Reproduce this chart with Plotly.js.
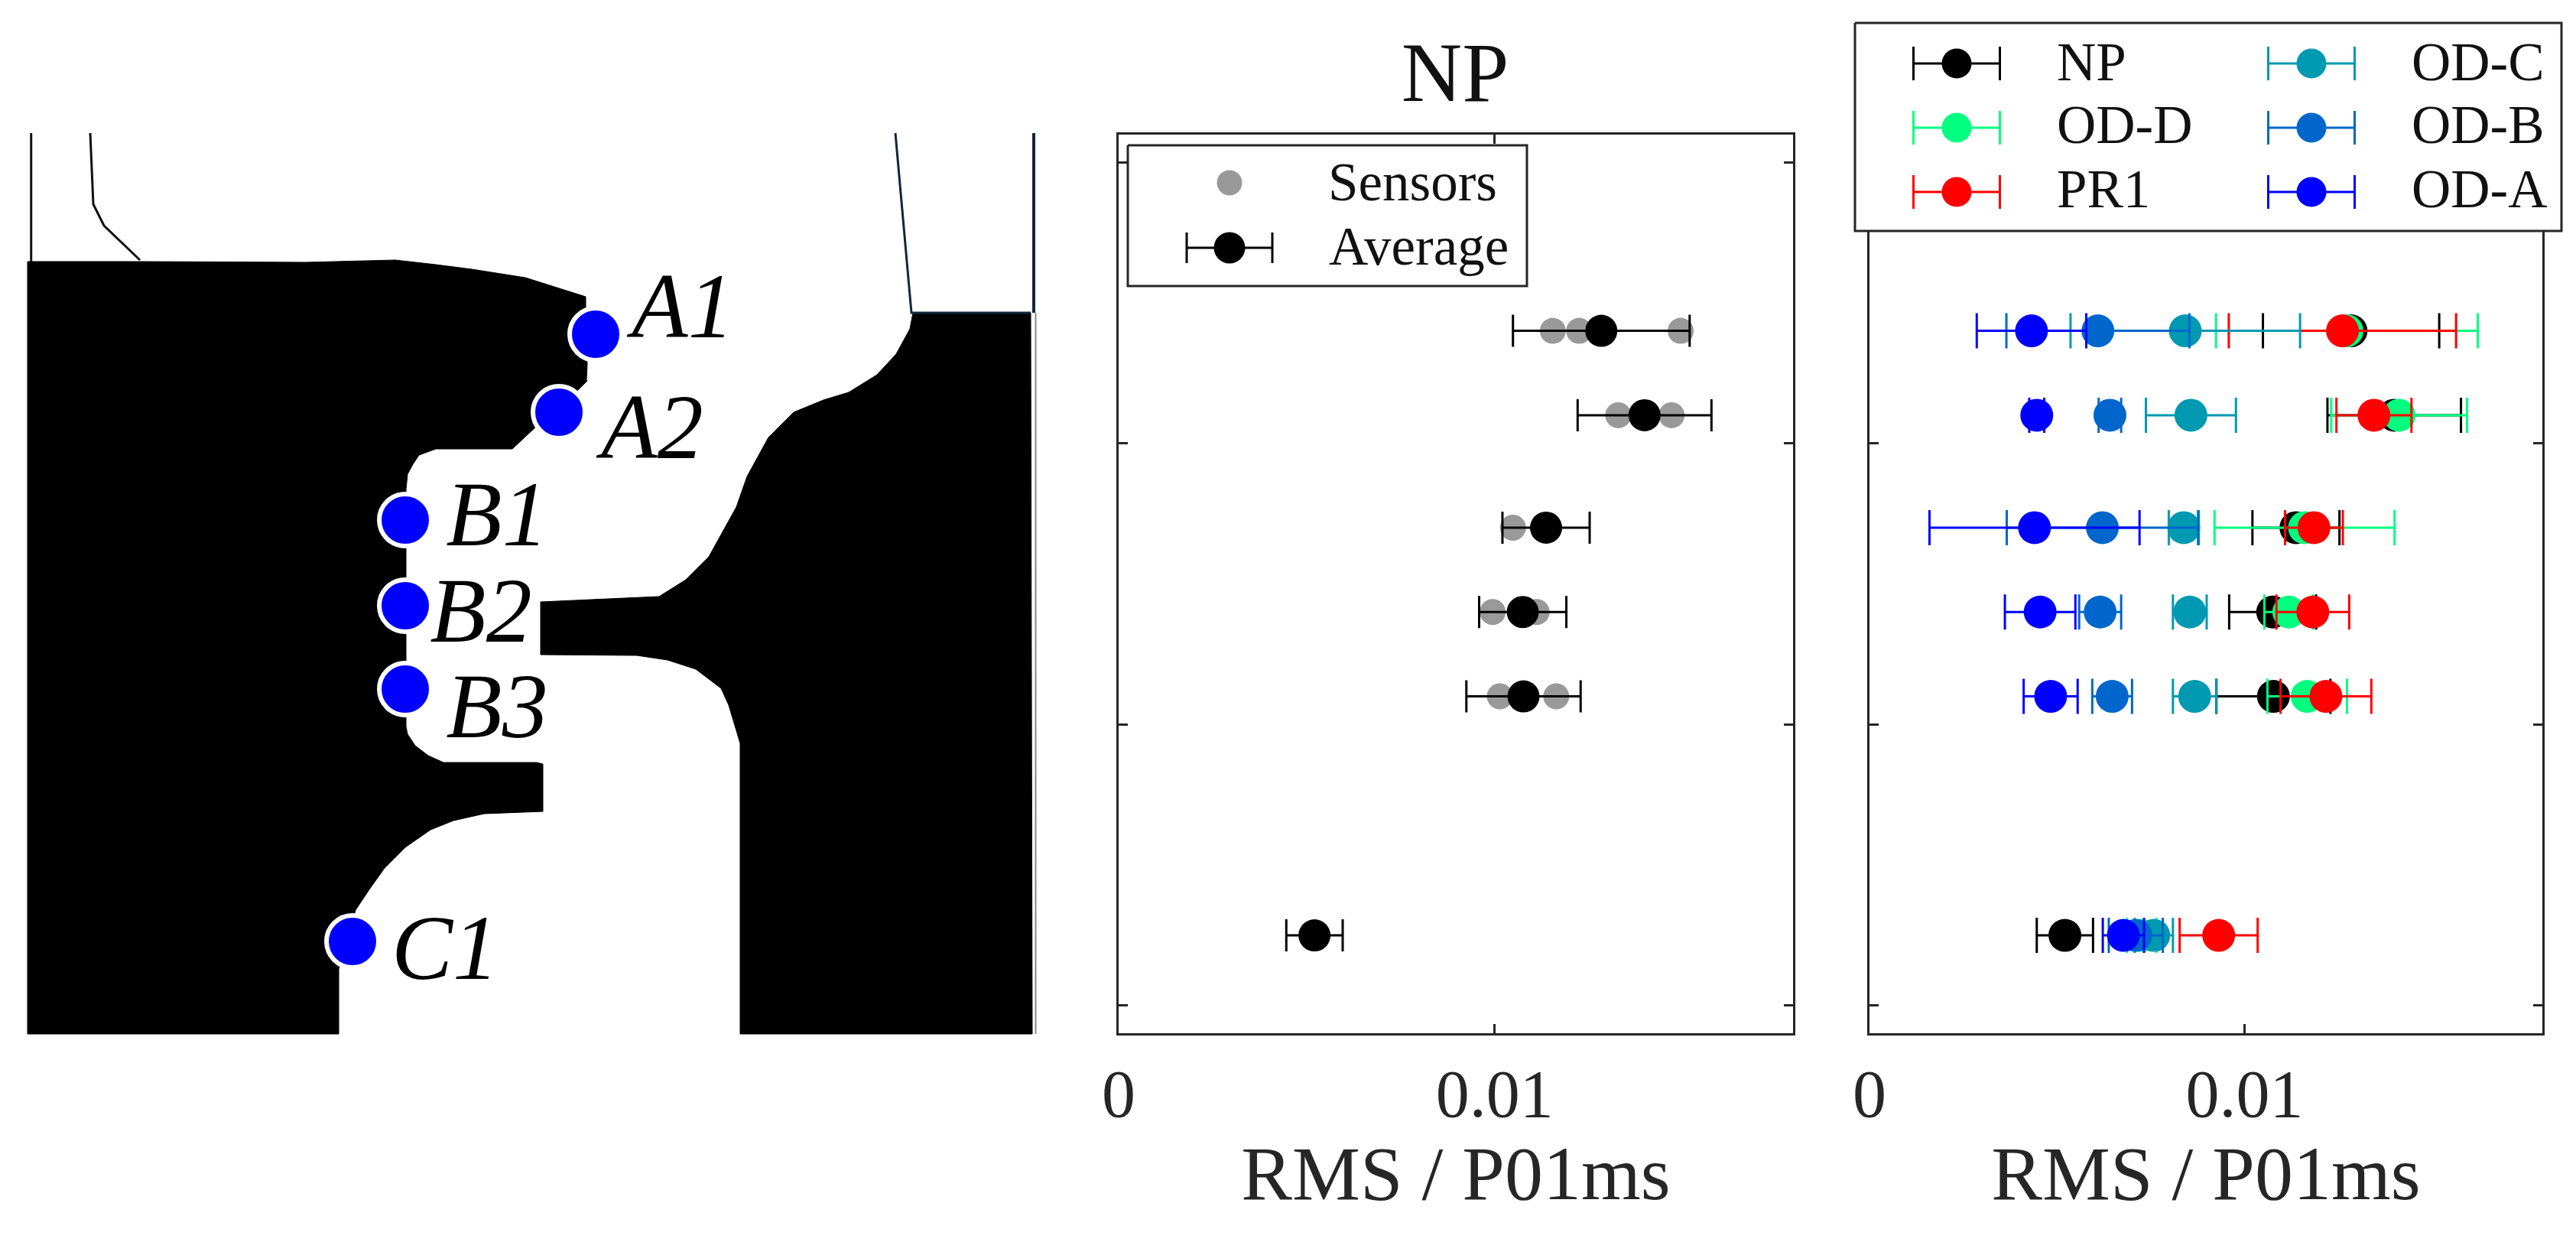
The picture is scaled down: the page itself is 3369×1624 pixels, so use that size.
<!DOCTYPE html>
<html><head><meta charset="utf-8">
<script src="https://cdn.plot.ly/plotly-3.0.1.min.js"></script>
<style>html,body{margin:0;padding:0;background:#fff}#c{width:3369px;height:1624px}</style>
</head><body><div id="c"></div>
<script>
// Data rows on the shared vertical axis (sensor position)
const rows = [2.4, 2.1, 1.7, 1.4, 1.1, 0.25];
const sensorNames = ['A1','A2','B1','B2','B3','C1'];

const seriesNames = ['NP','OD-D','PR1','OD-C','OD-B','OD-A'];
const seriesColors = ['#000000','#00FF7F','#FF0000','#0099B2','#0066CC','#0000FF'];

const npMean  = [0.01284,0.01399,0.01137,0.01075,0.01077,0.00521];
const npErr   = [0.00235,0.00178,0.00116,0.00116,0.00152,0.00075];
const odDMean = [0.01273,0.01412,0.01160,0.01118,0.01167,0.00726];
const odDErr  = [0.00349,0.00181,0.00240,0.00065,0.00106,0.00039];
const pr1Mean = [0.01261,0.01345,0.01185,0.01182,0.01217,0.00931];
const pr1Err  = [0.00303,0.00100,0.00077,0.00097,0.00121,0.00104];
const odCMean = [0.00842,0.00857,0.00838,0.00854,0.00867,0.00758];
const odCErr  = [0.00306,0.00120,0.00040,0.00045,0.00058,0.00051];
const odBMean = [0.00609,0.00641,0.00621,0.00615,0.00647,0.00710];
const odBErr  = [0.00244,0.00030,0.00255,0.00056,0.00053,0.00072];
const odAMean = [0.00432,0.00446,0.00440,0.00455,0.00483,0.00677];
const odAErr  = [0.00146,0.00020,0.00280,0.00094,0.00072,0.00055];

// Individual sensors behind the NP average
const sensorX = [0.01155,0.01225,0.01495, 0.01329,0.01400,0.01471, 0.01049,0.01130,0.01145, 0.00995,0.01075,0.01112, 0.01014,0.01080,0.01164, 0.00521];
const sensorY = [2.4,2.4,2.4, 2.1,2.1,2.1, 1.7,1.7,1.7, 1.4,1.4,1.4, 1.1,1.1,1.1, 0.25];

// Schematic outline (drawn on a hidden helper axis)
const solidLeftX = [36,183,400,517,570,617,687,766,766,768,767,768,757,702,670,570,548,540,533,531,531,533,543,560,580,702,710,710,633,593,563,530,503,483,465,443,443,36,36];
const solidLeftY = [342,342,343,340,346,352,363,388,403,477,497,498,509,557,587,587,595,607,620,640,950,960,975,988,997,997,999,1061,1064,1073,1085,1108,1135,1163,1190,1267,1352,1352,342];
const solidRightX = [707,862,897,927,963,977,1005,1038,1077,1110,1147,1172,1190,1194,1348,1350,968,968,953,943,910,873,833,707,707];
const solidRightY = [787,780,758,728,663,623,572,539,523,513,490,463,430,409,409,1352,1352,972,922,900,875,863,857,856,787];
const wallAX = [40.7,40.7];       const wallAY = [174,342];
const wallBX = [118,122,136,183]; const wallBY = [174,267,295,340];
const wallCX = [1171,1192,1348];  const wallCY = [174,409,409];
const wallDX = [1352,1352];       const wallDY = [174,409];
const wallEX = [1354.5,1354.5];   const wallEY = [409,1352];
const probeX = [779,731,530,530,530,461];
const probeY = [437,539,680,792,901,1231];
const probeLabelX = [893,853,650,629,650,582];
const probeLabelY = [411,569,683,809,934,1250];

const xTicks = [0,0.01];
const xTickText = ['0','0.01'];
const yTicks = [0,1,2,3];
const xLabel = 'RMS / P01ms';

const W=3369,H=1624;
const SERIF='"Liberation Serif", serif';
const INK='#262626';
const traces=[];

// --- panel NP
traces.push({type:'scatter',mode:'markers',x:sensorX,y:sensorY,xaxis:'x',yaxis:'y',showlegend:false,
  marker:{color:'#999999',size:34}});
traces.push({type:'scatter',mode:'markers',x:npMean,y:rows,xaxis:'x',yaxis:'y',showlegend:false,name:'Average',
  marker:{color:'#000000',size:42},
  error_x:{type:'data',array:npErr,visible:true,color:'#000000',thickness:3,width:21}});

// --- panel comparison
const means=[npMean,odDMean,pr1Mean,odCMean,odBMean,odAMean];
const errs=[npErr,odDErr,pr1Err,odCErr,odBErr,odAErr];
seriesNames.forEach((n,i)=>traces.push({type:'scatter',mode:'markers',name:n,x:means[i],y:rows,xaxis:'x2',yaxis:'y2',showlegend:false,
  marker:{color:seriesColors[i],size:43},
  error_x:{type:'data',array:errs[i],visible:true,color:seriesColors[i],thickness:3,width:23}}));

// --- schematic + legend keys on a hidden helper axis
function poly(x,y,col){traces.push({type:'scatter',mode:'lines',x,y,xaxis:'x3',yaxis:'y3',fill:'toself',fillcolor:col,line:{color:col,width:1},showlegend:false,hoverinfo:'skip'});}
function line(x,y,col,w){traces.push({type:'scatter',mode:'lines',x,y,xaxis:'x3',yaxis:'y3',line:{color:col,width:w},showlegend:false,hoverinfo:'skip'});}
poly(solidLeftX,solidLeftY,'#000000');
poly(solidRightX,solidRightY,'#000000');
line(wallAX,wallAY,'#111111',3);
line(wallBX,wallBY,'#111111',3);
line(wallCX,wallCY,'#10283C',3);
line(wallDX,wallDY,'#10283C',4);
line(wallEX,wallEY,'#888888',2);
traces.push({type:'scatter',mode:'markers',x:probeX,y:probeY,xaxis:'x3',yaxis:'y3',showlegend:false,hoverinfo:'skip',
  marker:{color:'#0000FF',size:68,line:{color:'#FFFFFF',width:6}}});
traces.push({type:'scatter',mode:'text',x:probeLabelX,y:probeLabelY,text:sensorNames,textposition:'middle center',xaxis:'x3',yaxis:'y3',showlegend:false,hoverinfo:'skip',
  textfont:{family:SERIF,size:120,style:'italic',color:'#000000'}});

function box(x0,x1,y0,y1){traces.push({type:'scatter',mode:'lines',x:[x0,x1,x1,x0,x0],y:[y0,y0,y1,y1,y0],xaxis:'x3',yaxis:'y3',fill:'toself',fillcolor:'#FFFFFF',line:{color:INK,width:3},showlegend:false,hoverinfo:'skip'});}
function key(cx,cy,hw,col,size,capw){traces.push({type:'scatter',mode:'markers',x:[cx],y:[cy],xaxis:'x3',yaxis:'y3',showlegend:false,hoverinfo:'skip',
  marker:{color:col,size:size},
  error_x:{type:'constant',value:hw,visible:true,color:col,thickness:3,width:capw}});}
box(1475,1997,190,374);
traces.push({type:'scatter',mode:'markers',x:[1608],y:[239],xaxis:'x3',yaxis:'y3',showlegend:false,hoverinfo:'skip',marker:{color:'#999999',size:33}});
key(1608,324,56,'#000000',41,20);
box(2426,3350,30,302);
const keyOrder=[[2559,83],[2559,167],[2559,251],[3023,83],[3023,167],[3023,251]];
keyOrder.forEach((p,i)=>key(p[0],p[1],56.5,seriesColors[i],39,22));

const annotations=[];
function txt(t,x,y,size){annotations.push({text:t,x,y,xref:'x3',yref:'y3',xanchor:'left',yanchor:'middle',showarrow:false,font:{family:SERIF,size,color:'#111111'}});}
txt('Sensors',1735,238,71); txt('Average',1736,322,71);
txt('NP',2688,81,71); txt('OD-D',2688,163,71); txt('PR1',2688,247,71);
txt('OD-C',3152,81,71); txt('OD-B',3152,163,71); txt('OD-A',3152,247,71);

function dataX(a,b){return {domain:[a/W,b/W],range:[0,0.01794],tickmode:'array',tickvals:xTicks,ticktext:xTickText,
  ticks:'inside',ticklen:12,tickwidth:3,tickcolor:INK,showline:true,linecolor:INK,linewidth:3,mirror:'allticks',
  showgrid:false,zeroline:false,ticklabelstandoff:0,automargin:'height',
  tickfont:{family:SERIF,size:88,color:INK},
  title:{text:xLabel,standoff:10,font:{family:SERIF,size:100,color:INK}}};}
function dataY(anchor){return {domain:[1-1351/H,1-176/H],range:[-0.098,3.098],tickmode:'array',tickvals:yTicks,showticklabels:false,
  ticks:'inside',ticklen:12,tickwidth:3,tickcolor:INK,showline:true,linecolor:INK,linewidth:3,mirror:'allticks',
  showgrid:false,zeroline:false,anchor};}

const layout={width:W,height:H,margin:{l:0,r:0,t:0,b:0},paper_bgcolor:'#FFFFFF',plot_bgcolor:'rgba(0,0,0,0)',showlegend:false,hovermode:false,
  title:{text:'NP',x:1903/W,xanchor:'center',xref:'paper',y:1-93/H,yanchor:'middle',yref:'container',font:{family:SERIF,size:110,color:'#111111'}},
  xaxis:Object.assign(dataX(1463,2345),{anchor:'y'}),
  yaxis:dataY('x'),
  xaxis2:Object.assign(dataX(2445,3325),{anchor:'y2'}),
  yaxis2:dataY('x2'),
  xaxis3:{domain:[0,1],range:[0,W],visible:false,anchor:'y3',fixedrange:true},
  yaxis3:{domain:[0,1],range:[H,0],visible:false,anchor:'x3',fixedrange:true},
  annotations};
Plotly.newPlot('c',traces,layout,{staticPlot:true,displayModeBar:false});
</script></body></html>
